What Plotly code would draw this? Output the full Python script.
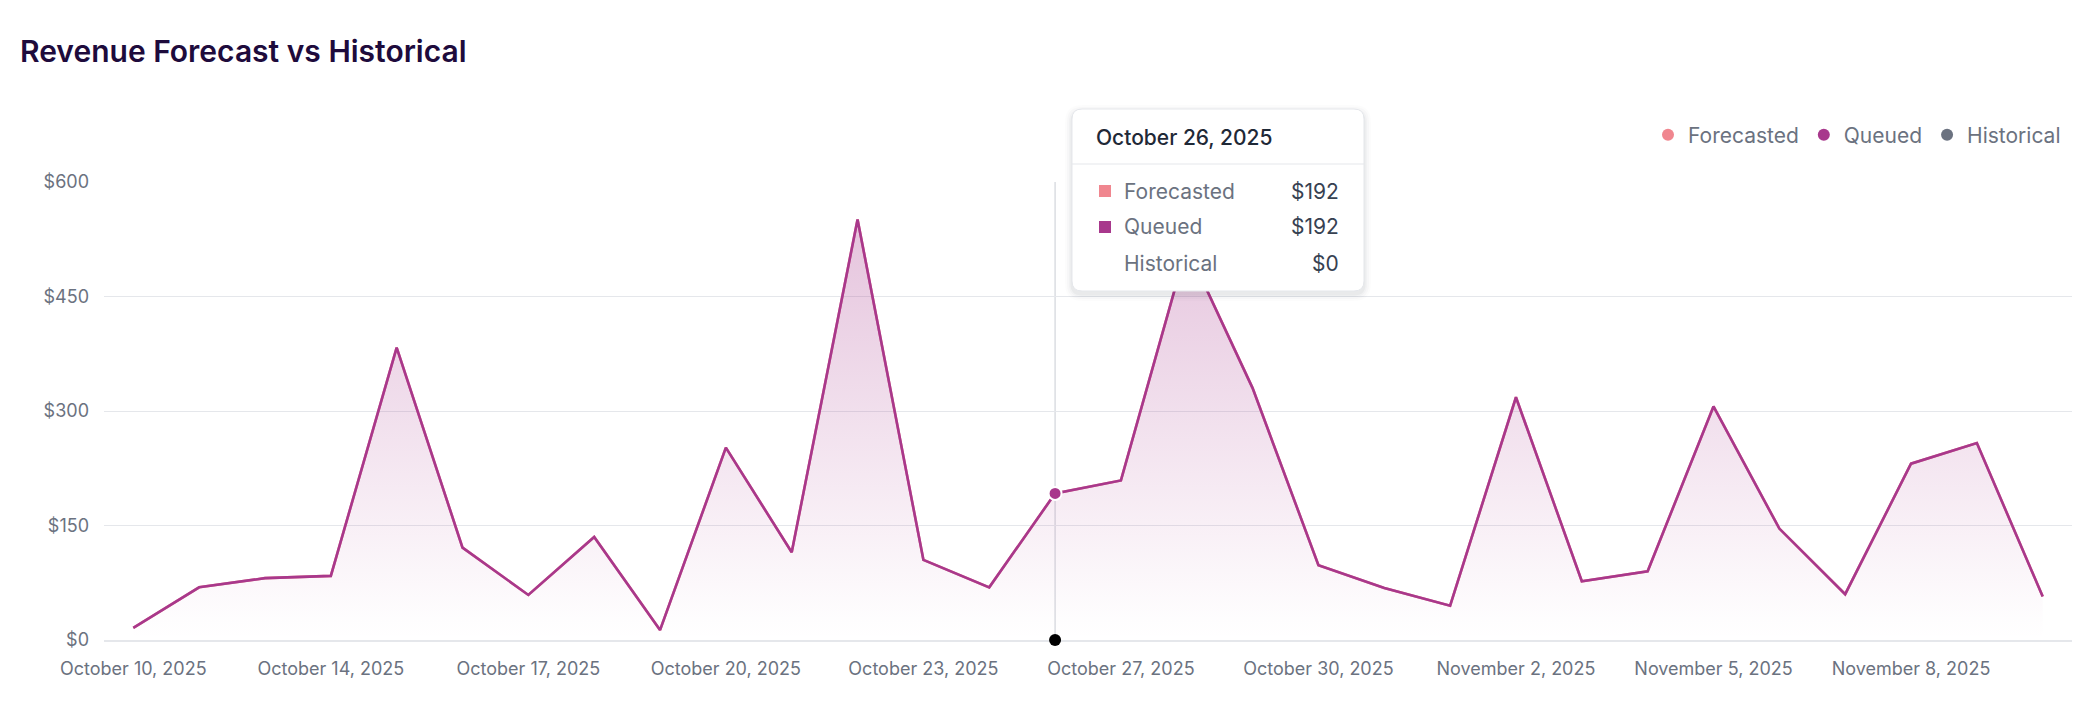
import datetime as dt
import plotly.graph_objects as go

# ---------------- data ----------------
dates = [
    "2025-10-10", "2025-10-12", "2025-10-13", "2025-10-14", "2025-10-15",
    "2025-10-16", "2025-10-17", "2025-10-18", "2025-10-19", "2025-10-20",
    "2025-10-21", "2025-10-22", "2025-10-23", "2025-10-25", "2025-10-26",
    "2025-10-27", "2025-10-28", "2025-10-29", "2025-10-30", "2025-10-31",
    "2025-11-01", "2025-11-02", "2025-11-03", "2025-11-04", "2025-11-05",
    "2025-11-06", "2025-11-07", "2025-11-08", "2025-11-09", "2025-11-10",
]
queued = [16, 69, 81, 84, 383, 121, 59, 135, 13, 252,
          115, 551, 105, 69, 192, 209, 515, 330, 98, 68,
          45, 318, 77, 90, 306, 146, 60, 231, 258, 57]
forecasted = [16, 69, 81, 84, 383, 121, 59, 135, 13, 252,
              115, 551, 105, 69, 192, 209, 515, 330, 98, 68,
              45, 318, 77, 90, 306, 146, 60, 231, 258, 57]
historical_hover = 0
hover_index = 14
y_ticks = [0, 150, 300, 450, 600]
series_names = ["Forecasted", "Queued", "Historical"]
series_colors = ["#F0868F", "#A8388C", "#6B7280"]


def fmt(d):
    t = dt.date.fromisoformat(d)
    return f"{t:%B} {t.day}, {t.year}"


labels = [fmt(d) for d in dates]
tick_idx = list(range(0, len(labels), 3))

# ---------------- geometry (screen px -> figure) ----------------
OFF = 8                      # default page body margin
SW, SH = 2099, 706           # window
W, H = SW - 2 * OFF, SH - 2 * OFF
L, R, T, B = 104 - OFF, 2072 - OFF, 182 - OFF, 640 - OFF


def px(x):
    return (x - OFF - L) / (R - L)


def py(y):
    return (B - (y - OFF)) / (B - T)


def rrect(x0, y0, x1, y1, r):
    rx = r / (R - L)
    ry = r / (B - T)
    X0, X1 = px(x0), px(x1)
    Y0, Y1 = py(y0), py(y1)
    return (f"M {X0+rx},{Y0} L {X1-rx},{Y0} Q {X1},{Y0} {X1},{Y0-ry} "
            f"L {X1},{Y1+ry} Q {X1},{Y1} {X1-rx},{Y1} "
            f"L {X0+rx},{Y1} Q {X0},{Y1} {X0},{Y1+ry} "
            f"L {X0},{Y0-ry} Q {X0},{Y0} {X0+rx},{Y0} Z")


FONT = "Inter"
fig = go.Figure()

fig.add_trace(go.Scatter(
    x=labels, y=forecasted, mode="lines", name="Forecasted",
    line=dict(color=series_colors[0], width=2.6), showlegend=False,
    hoverinfo="skip"))

fig.add_trace(go.Scatter(
    x=labels, y=queued, mode="lines", name="Queued",
    line=dict(color=series_colors[1], width=2.6),
    fill="tozeroy",
    fillgradient=dict(type="vertical", start=0, stop=max(queued),
                      colorscale=[[0, "rgba(168,56,140,0.0)"],
                                  [0.05, "rgba(168,56,140,0.01)"],
                                  [1, "rgba(168,56,140,0.30)"]]),
    showlegend=False, hoverinfo="skip"))

fig.add_trace(go.Scatter(
    x=[labels[hover_index]], y=[queued[hover_index]], mode="markers",
    marker=dict(size=13, color=series_colors[1], line=dict(color="white", width=2)),
    showlegend=False, hoverinfo="skip", cliponaxis=False))
fig.add_trace(go.Scatter(
    x=[labels[hover_index]], y=[historical_hover], mode="markers",
    marker=dict(size=12, color="black", line=dict(width=0)),
    showlegend=False, hoverinfo="skip", cliponaxis=False))

for n, c in zip(series_names, series_colors):
    fig.add_trace(go.Scatter(
        x=[None], y=[None], mode="markers", name=n,
        marker=dict(size=12, color=c, symbol="circle")))

shapes = []
shapes.append(dict(type="line", xref="x", yref="y",
                   x0=labels[hover_index], x1=labels[hover_index],
                   y0=0, y1=600, line=dict(color="#D1D5DB", width=1.2),
                   layer="below"))

tx0, ty0, tx1, ty1 = 1072, 109, 1364, 291
for e, a in [(7, 0.012), (5, 0.018), (3, 0.025), (1.5, 0.035)]:
    shapes.append(dict(type="path", xref="paper", yref="paper",
                       path=rrect(tx0 - e, ty0 - e + 3, tx1 + e, ty1 + e + 3, 10 + e),
                       fillcolor=f"rgba(17,24,39,{a})", line=dict(width=0),
                       layer="above"))
shapes.append(dict(type="path", xref="paper", yref="paper",
                   path=rrect(tx0, ty0, tx1, ty1, 10),
                   fillcolor="white", line=dict(color="#E5E7EB", width=1),
                   layer="above"))
shapes.append(dict(type="line", xref="paper", yref="paper",
                   x0=px(tx0), x1=px(tx1), y0=py(164), y1=py(164),
                   line=dict(color="#E5E7EB", width=1), layer="above"))

annotations = []
annotations.append(dict(
    xref="paper", yref="paper", x=px(1094), y=py(137), xanchor="left",
    yanchor="middle", text=labels[hover_index], showarrow=False,
    font=dict(family=FONT, size=21, color="#1F2937", weight=500)))

rows_y = [191, 227, 263]
row_vals = [forecasted[hover_index], queued[hover_index], historical_hover]
for i, (n, v, yy) in enumerate(zip(series_names, row_vals, rows_y)):
    if i < 2:
        shapes.append(dict(type="rect", xref="paper", yref="paper",
                           x0=px(1099), x1=px(1111), y0=py(yy - 6), y1=py(yy + 6),
                           fillcolor=series_colors[i], line=dict(width=0),
                           layer="above"))
    annotations.append(dict(
        xref="paper", yref="paper", x=px(1122), y=py(yy), xanchor="left",
        yanchor="middle", text=n, showarrow=False,
        font=dict(family=FONT, size=21, color="#6B7280")))
    annotations.append(dict(
        xref="paper", yref="paper", x=px(1341), y=py(yy), xanchor="right",
        yanchor="middle", text=f"${v}", showarrow=False,
        font=dict(family=FONT, size=21, color="#374151")))

fig.update_layout(
    width=W, height=H,
    margin=dict(l=L, r=W - R, t=T, b=H - B),
    paper_bgcolor="white", plot_bgcolor="white",
    font=dict(family=FONT, color="#6B7280"),
    title=dict(text="Revenue Forecast vs Historical", xref="container",
               yref="container", x=(20 - OFF) / W, xanchor="left",
               y=1 - (51 - OFF) / H, yanchor="middle",
               font=dict(family=FONT, size=30, color="#1E0B3C", weight=600)),
    legend=dict(orientation="h", xanchor="right", yanchor="middle",
                x=px(2066), y=py(135),
                font=dict(family=FONT, size=21, color="#6B7280"),
                bgcolor="rgba(0,0,0,0)", itemclick=False),
    shapes=shapes, annotations=annotations,
    showlegend=True,
)
fig.update_xaxes(type="category", range=[-0.445, len(labels) - 1 + 0.445],
                 tickmode="array", tickvals=[labels[i] for i in tick_idx],
                 ticktext=[labels[i] for i in tick_idx],
                 showgrid=False, zeroline=False, showline=True,
                 linecolor="#E5E7EB", linewidth=1.5, ticks="",
                 layer="below traces",
                 tickfont=dict(family=FONT, size=18, color="#6B7280"),
                 ticklabelstandoff=12)
fig.update_yaxes(range=[0, 600], tickvals=y_ticks,
                 ticktext=[f"${v}" for v in y_ticks],
                 showgrid=True, gridcolor="#E5E7EB", gridwidth=1,
                 zeroline=False, ticks="", showline=False,
                 layer="below traces",
                 tickfont=dict(family=FONT, size=18, color="#6B7280"),
                 ticklabelstandoff=14)

fig.write_html("out.html")
